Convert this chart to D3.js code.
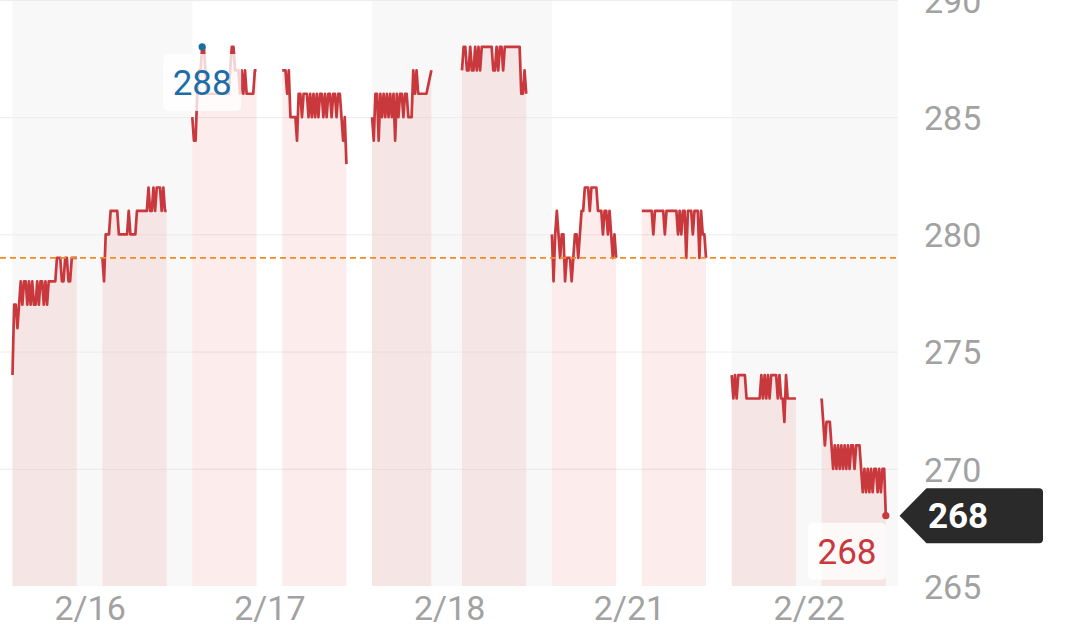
<!DOCTYPE html>
<html><head><meta charset="utf-8">
<script src="https://cdn.jsdelivr.net/npm/d3@7"></script>
<style>
html,body{margin:0;padding:0;background:#fff;}
svg{display:block;font-family:Roboto,"Noto Sans",sans-serif;}
</style>
</head><body>
<svg id="chart" width="1080" height="635"></svg>
<script>
// ---- data ----
const dayLabels = ["2/16","2/17","2/18","2/21","2/22"];
const yTicks = [265,270,275,280,285,290];
const prevClose = 279;
const lastPrice = 268;
// prices sampled in 40 even slots per trading session (null = no trade)
const d1am = [274,277,277,276,277,278,277,278,278,277, 278,277,278,277,277,278,277,278,278,277, 278,277,278,278,278,278,278,279,279,279, 278,278,279,279,278,278,279,279,279,279];
const d1pm = [279,278,280,280,280,281,281,281,281,281, 280,280,280,280,280,280,281,280,280,280, 280,281,281,281,281,281,281,281,282,281, 281,282,281,282,282,282,281,282,281,281];
const d2am = [285,284,284,286,287,287,288,288,287,286, 286,286,286,286,286,286,286,286,286,286, 286,286,286,287,288,288,287,287,287,286, 287,286,287,286,286,286,286,286,287,287];
const d2pm = [287,287,287,286,287,285,285,285,285,284, 286,286,285,286,286,286,285,286,285,286, 285,286,285,286,286,285,286,285,286,286, 285,286,286,285,286,286,285,284,285,283];
const d3am = [285,284,286,286,284,286,285,286,285,286, 285,286,285,286,284,286,285,286,286,285, 286,286,285,285,285,287,286,287,286,286, 286,286,286,286,null,null,287,null,null,null];
const d3pm = [287,288,288,287,287,288,287,287,288,287, 288,287,288,288,288,288,288,288,288,287, 287,288,287,288,288,287,288,288,288,288, 288,288,288,288,288,288,286,286,287,286];
const d4am = [280,278,280,281,280,279,280,280,278,279, 279,279,278,279,280,280,279,280,281,281, 282,282,282,281,282,282,282,282,281,281, 281,280,281,281,280,281,280,279,280,279];
const d4pm = [281,281,281,281,281,281,281,280,281,281, 281,281,281,281,280,281,281,281,281,281, 281,281,280,281,280,281,281,279,281,281, 281,280,281,281,281,279,281,280,280,279];
const d5am = [274,273,274,273,274,274,274,274,274,273, 273,273,273,273,273,273,273,273,274,273, 274,273,274,273,274,274,274,274,273,274, 273,273,272,274,273,273,273,273,273,273];
const d5pm = [273,272,271,272,272,272,271,270,271,270, 271,270,271,270,271,270,271,270,271,271, 270,271,271,271,270,269,270,269,270,269, 270,269,270,270,269,270,269,270,270,268];

const sessions = [
  {day:0,start:0,prices:d1am},{day:0,start:210,prices:d1pm},
  {day:1,start:0,prices:d2am},{day:1,start:210,prices:d2pm},
  {day:2,start:0,prices:d3am},{day:2,start:210,prices:d3pm},
  {day:3,start:0,prices:d4am},{day:3,start:210,prices:d4pm},
  {day:4,start:0,prices:d5am},{day:4,start:210,prices:d5pm}
];

// ---- layout ----
const DAY_MIN = 420, SESSION_MIN = 150, SLOTS = 40;
const plotRight = 898, plotBottom = 586;
const x = d3.scaleLinear().domain([0, 5*DAY_MIN]).range([12.5, 12.5 + 5*179.8]);
const y = d3.scaleLinear().domain([265, 290]).range([plotBottom, 0]);

const svg = d3.select("#chart");
svg.append("defs").append("clipPath").attr("id","plotclip")
  .append("rect").attr("x",0).attr("y",0).attr("width",plotRight).attr("height",plotBottom);

const plot = svg.append("g").attr("clip-path","url(#plotclip)");

// alternating day bands
plot.selectAll("rect.band").data(dayLabels.map((d,i)=>i).filter(i=>i%2===0))
  .join("rect").attr("class","band")
  .attr("x", i=>x(i*DAY_MIN)).attr("width", i=>x((i+1)*DAY_MIN)-x(i*DAY_MIN))
  .attr("y",0).attr("height",plotBottom).attr("fill","#f8f8f8");

// gridlines
plot.selectAll("line.grid").data(yTicks).join("line").attr("class","grid")
  .attr("x1",0).attr("x2",plotRight).attr("y1",d=>y(d)+0.5).attr("y2",d=>y(d)+0.5)
  .attr("stroke","#ececec").attr("stroke-width",1);

// series
const allPts = [];
const seriesPts = sessions.map(s => {
  const pts = [];
  s.prices.forEach((p,i)=>{
    if (p == null) return;
    const pt = {t: s.day*DAY_MIN + s.start + i*SESSION_MIN/(SLOTS-1), v: p};
    pts.push(pt); allPts.push(pt);
  });
  return pts;
});

const area = d3.area().x(d=>x(d.t)).y0(plotBottom).y1(d=>y(d.v));
const line = d3.line().x(d=>x(d.t)).y(d=>y(d.v));

plot.selectAll("path.area").data(seriesPts).join("path").attr("class","area")
  .attr("d",area).attr("fill","rgba(230,70,70,0.10)");
plot.selectAll("path.line").data(seriesPts).join("path").attr("class","line")
  .attr("d",line).attr("fill","none").attr("stroke","#c8383c")
  .attr("stroke-width",2.7).attr("stroke-linejoin","round");

// previous close dashed line
svg.append("line").attr("x1",0).attr("x2",plotRight)
  .attr("y1",y(prevClose)).attr("y2",y(prevClose))
  .attr("stroke","#ef8c22").attr("stroke-width",1.8).attr("stroke-dasharray","6,4");

// high / low labels
const hi = allPts[d3.maxIndex(allPts, d=>d.v)];
const lo = allPts[d3.minIndex(allPts, d=>d.v)];

function markLabel(pt, color){
  const px = x(pt.t), py = y(pt.v);
  const g = svg.append("g");
  const bw = 78, bh = 57;
  let bx = px - bw/2;
  if (bx + bw > 886) bx = 886 - bw;
  g.append("rect").attr("x",bx).attr("y",py+7).attr("width",bw).attr("height",bh)
    .attr("rx",5).attr("fill","rgba(255,255,255,0.78)");
  g.append("text").attr("x",bx+bw/2).attr("y",py+48).attr("text-anchor","middle")
    .attr("font-size",35).attr("fill",color).text(pt.v);
  svg.append("circle").attr("cx",px).attr("cy",py).attr("r",3.6).attr("fill",color);
}
markLabel(hi, "#1b6ea8");
markLabel(lo, "#c8383c");

// axes
const yAxis = d3.axisRight(y).tickValues(yTicks).tickSize(0).tickPadding(0);
const gy = svg.append("g").attr("transform","translate(924,0)").call(yAxis);
gy.select(".domain").remove();
gy.selectAll("text").attr("font-size",34).attr("fill","#a2a2a2")
  .attr("font-family","Roboto, sans-serif").attr("dy","0.36em");

const noon = dayLabels.map((d,i)=>i*DAY_MIN + 180);
const xAxis = d3.axisBottom(x).tickValues(noon).tickFormat((d,i)=>dayLabels[i]).tickSize(0).tickPadding(9.5);
const gx = svg.append("g").attr("transform",`translate(0,${plotBottom})`).call(xAxis);
gx.select(".domain").remove();
gx.selectAll("text").attr("font-size",34).attr("fill","#a2a2a2").attr("font-family","Roboto, sans-serif");

// current price badge
const by = y(lastPrice), tipX = 899.5, bodyX = 926.5, right = 1043, hh = 27.5, r = 4;
svg.append("path").attr("d",
  `M${tipX},${by} L${bodyX},${by-hh} L${right-r},${by-hh} Q${right},${by-hh} ${right},${by-hh+r} ` +
  `L${right},${by+hh-r} Q${right},${by+hh} ${right-r},${by+hh} L${bodyX},${by+hh} Z`)
  .attr("fill","#2a2a2a");
svg.append("text").attr("x",958).attr("y",by+12.5).attr("text-anchor","middle")
  .attr("font-size",35).attr("font-weight","bold").attr("fill","#fff").text(lastPrice);
</script>
</body></html>
